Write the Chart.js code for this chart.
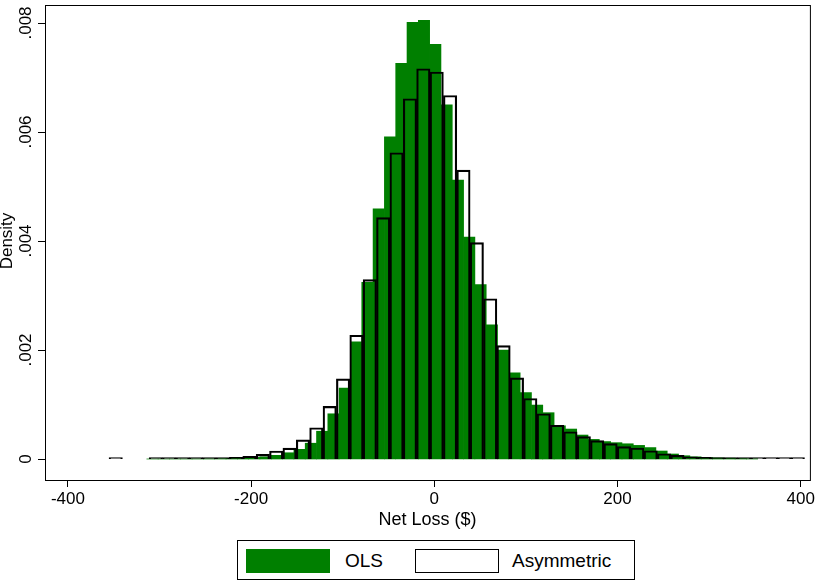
<!DOCTYPE html>
<html>
<head>
<meta charset="utf-8">
<script src="https://cdn.jsdelivr.net/npm/chart.js@4"></script>
<style>
  body { margin:0; background:#fff; font-family:"Liberation Sans", Arial, sans-serif; }
  #wrap { position:relative; width:817px; height:584px; }
  #legend { position:absolute; left:237px; top:540px; width:398px; height:40px; border:1px solid #000; box-sizing:border-box; font-size:19px; }
  .sw { position:absolute; top:8px; width:84px; height:24px; box-sizing:border-box; }
  .lb { position:absolute; top:9px; }
</style>
</head>
<body>
<div id="wrap">
  <canvas id="c" width="817" height="535" style="width:817px;height:535px"></canvas>
  <div id="legend">
    <div class="sw" style="left:8px;background:#007f00"></div><span class="lb" style="left:107px">OLS</span>
    <div class="sw" style="left:177px;border:1.5px solid #000"></div><span class="lb" style="left:274px">Asymmetric</span>
  </div>
</div>
<script>
// histogram bins: left edge of first bin and bin width (in $)
const olsBinStart = -313.85;
const olsBinWidth = 12.35;
const olsDensity = [
  .000001,.000001,.000002,.000002,.000003,.000005,.000008,.000012,.00002,.00003,
  .00004,.000068,.000115,.000178,.00029,.00051,.00083,.00130,.00215,.00324,
  .00459,.00591,.00726,.00801,.00805,.00761,.00650,.00512,.00407,.00320,
  .00246,.00200,.00158,.00122,.00099,.00085,.00061,.00055,.00044,.00036,
  .00032,.00030,.00028,.00025,.00021,.000147,.000092,.00006,.00004,.00003,
  .00002,.000015,.00001,.000005
];
const asymBinStart = -355.1;
const asymBinWidth = 14.6;
const asymDensity = [
  .000002,null,null,.000002,.000003,.000005,.000008,.000012,.00002,.00003,
  .00005,.000086,.000147,.0002,.00035,.000574,.000967,.00147,.00227,.00329,
  .00443,.00562,.00661,.00716,.00710,.00667,.00530,.00397,.00294,.00208,
  .00149,.00111,.00083,.00062,.00050,.00041,.000336,.000281,.000226,.000202,
  .000152,.000097,.000067,.00004,.00003,.00002,.000015,.00001,.00001,.000005,
  .000005,.000003
];
const xTicks = [-400,-200,0,200,400];
const yTicks = [0,.002,.004,.006,.008];

function toPoints(start, w, vals){
  return vals.map((v,i)=> ({ x: start + w*(i+0.5), y: v }));
}
const font = { family: '"Liberation Sans", Arial, sans-serif', size: 17 };

const frame = {
  id: 'frame',
  afterDraw(chart){
    const {ctx, chartArea:a, scales} = chart;
    ctx.save();
    ctx.strokeStyle = '#000'; ctx.lineWidth = 1;
    ctx.strokeRect(a.left+0.5, a.top+0.5, a.right-a.left, a.bottom-a.top);
    // rotated y tick labels, Stata style
    ctx.fillStyle = '#000';
    ctx.font = '17px "Liberation Sans", Arial, sans-serif';
    ctx.textAlign = 'center'; ctx.textBaseline = 'bottom';
    yTicks.forEach(v=>{
      const y = scales.y.getPixelForValue(v);
      ctx.beginPath(); ctx.moveTo(a.left-7, Math.round(y)+0.5); ctx.lineTo(a.left, Math.round(y)+0.5); ctx.stroke();
      ctx.save(); ctx.translate(a.left-10, y); ctx.rotate(-Math.PI/2);
      ctx.fillText(v===0 ? '0' : String(v).replace(/^0/, ''), 0, 0);
      ctx.restore();
    });
    ctx.save(); ctx.translate(16, scales.y.getPixelForValue(.004)); ctx.rotate(-Math.PI/2);
    ctx.fillText('Density', 0, 0);
    ctx.restore();
    ctx.restore();
  }
};

new Chart(document.getElementById('c'), {
  type: 'bar',
  data: { datasets: [
    { label: 'Asymmetric', data: toPoints(asymBinStart, asymBinWidth, asymDensity), xAxisID: 'x2', order: 1,
      backgroundColor: 'rgba(0,0,0,0)', borderColor: '#000', borderWidth: 1.5, borderSkipped: 'bottom',
      minBarLength: 1.5, barPercentage: 1, categoryPercentage: 1, grouped: false },
    { label: 'OLS', data: toPoints(olsBinStart, olsBinWidth, olsDensity), xAxisID: 'x', order: 2,
      backgroundColor: '#007f00', borderWidth: 0,
      barPercentage: 1, categoryPercentage: 1, grouped: false }
  ]},
  options: {
    responsive: false, animation: false,
    layout: { padding: { top: 5, right: 7, left: 0, bottom: 0 } },
    plugins: { legend: { display: false }, tooltip: { enabled: false } },
    scales: {
      x: { type: 'linear', min: -425, max: 410, offset: false,
        afterBuildTicks: s => { s.ticks = xTicks.map(v=>({value:v})); },
        afterFit: s => { s.height = 55; },
        grid: { drawOnChartArea: false, drawTicks: true, tickLength: 7, color: '#000', offset: false },
        border: { display: true, color: '#000' },
        ticks: { color: '#000', font, padding: 2, maxRotation: 0 },
        title: { display: true, text: 'Net Loss ($)', color: '#000', font: { ...font, size: 18 }, padding: { top: 0 } } },
      x2: { type: 'linear', min: -425, max: 410, offset: false, display: false },
      y: { min: -0.000385, max: 0.00833,
        afterBuildTicks: s => { s.ticks = yTicks.map(v=>({value:v})); },
        afterFit: s => { s.width = 45; },
        grid: { display: false }, border: { display: false },
        ticks: { display: false } }
    }
  },
  plugins: [frame]
});
</script>
</body>
</html>
